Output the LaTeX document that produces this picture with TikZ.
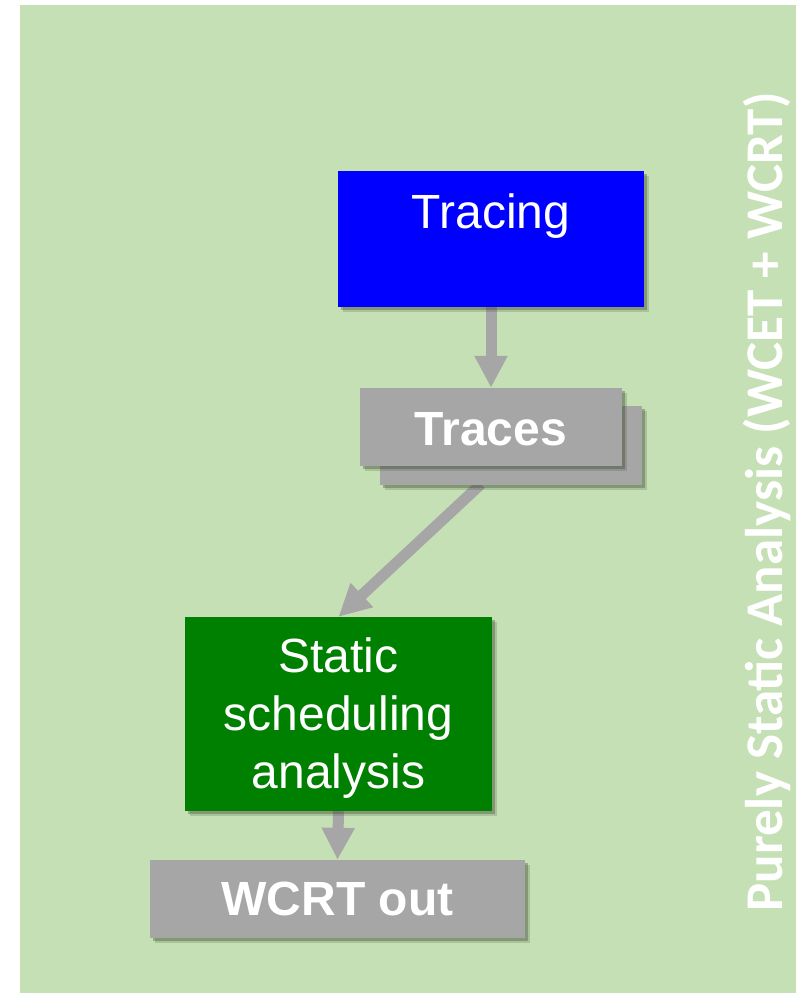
\documentclass[tikz,border=0pt]{standalone}
\usepackage{fontspec}
\setmainfont{Liberation Sans}
\newfontfamily\carlitofont{Carlito}
\usetikzlibrary{arrows.meta,shadows}
\definecolor{bggreen}{HTML}{C5E0B4}
\definecolor{boxgray}{HTML}{A6A6A6}
\definecolor{boxblue}{HTML}{0000FF}
\definecolor{boxgreen}{HTML}{008000}
\definecolor{shadowcol}{HTML}{3A4A30}
\pgfdeclarelayer{bottomlayer}
\pgfdeclarelayer{arrowlayer}
\pgfsetlayers{bottomlayer,arrowlayer,main}
\tikzset{
  boxshadow/.style={
    drop shadow={shadow xshift=3pt, shadow yshift=-3pt, fill=shadowcol, opacity=0.35},
    drop shadow={shadow xshift=5pt, shadow yshift=-5pt, fill=shadowcol, opacity=0.2}},
  flowbox/.style={draw=none, inner sep=0pt, boxshadow},
  boxtext/.style={text=white, font=\fontsize{48}{57.6}\selectfont, inner sep=0pt},
  boldtext/.style={boxtext, font=\fontsize{48}{57.6}\selectfont\bfseries},
  flowarrow/.style={draw=boxgray, line width=11pt, -{Triangle[width=31pt,length=32pt]}},
}
\begin{document}
\begin{tikzpicture}[x=1pt,y=-1pt]
\useasboundingbox (0,0) rectangle (796,993);
\begin{pgfonlayer}{bottomlayer}
\fill[bggreen] (20,5) rectangle (796,993);
\end{pgfonlayer}
% boxes
\node[flowbox, fill=boxblue, minimum width=306pt, minimum height=136pt] (tracing) at (491,239) {};
\node[flowbox, fill=boxgray, minimum width=262pt, minimum height=79pt] (tracesback) at (511,445.5) {};
\node[flowbox, fill=boxgray, minimum width=262pt, minimum height=78pt] (traces) at (491,427) {};
\node[flowbox, fill=boxgreen, minimum width=307pt, minimum height=194pt] (static) at (338.5,714) {};
\node[flowbox, fill=boxgray, minimum width=375pt, minimum height=78pt] (wcrt) at (337.5,899) {};
% texts
\node[boxtext, anchor=base] (tracingtext) at (491,228) {Tracing};
\node[boldtext, anchor=base] (tracestext) at (491,445) {Traces};
\node[boxtext, anchor=base, align=center] (statictext) at (338.5,788) {Static\\scheduling\\analysis};
\node[boldtext, anchor=base] (wcrttext) at (337.5,915) {WCRT out};
% arrows
\coordinate (a2start) at (481,484);
\begin{pgfonlayer}{arrowlayer}
\draw[flowarrow] (tracing.south) -- (traces.north);
\draw[flowarrow] (a2start) -- (static.north);
\draw[flowarrow] (static.south) -- (wcrt.north);
\end{pgfonlayer}
% side label
\node[text=white, font=\carlitofont\bfseries\fontsize{53}{60}\selectfont, rotate=90, anchor=base, inner sep=0pt] (sidelabel) at (782,502) {Purely Static Analysis (WCET + WCRT)};
\end{tikzpicture}
\end{document}
